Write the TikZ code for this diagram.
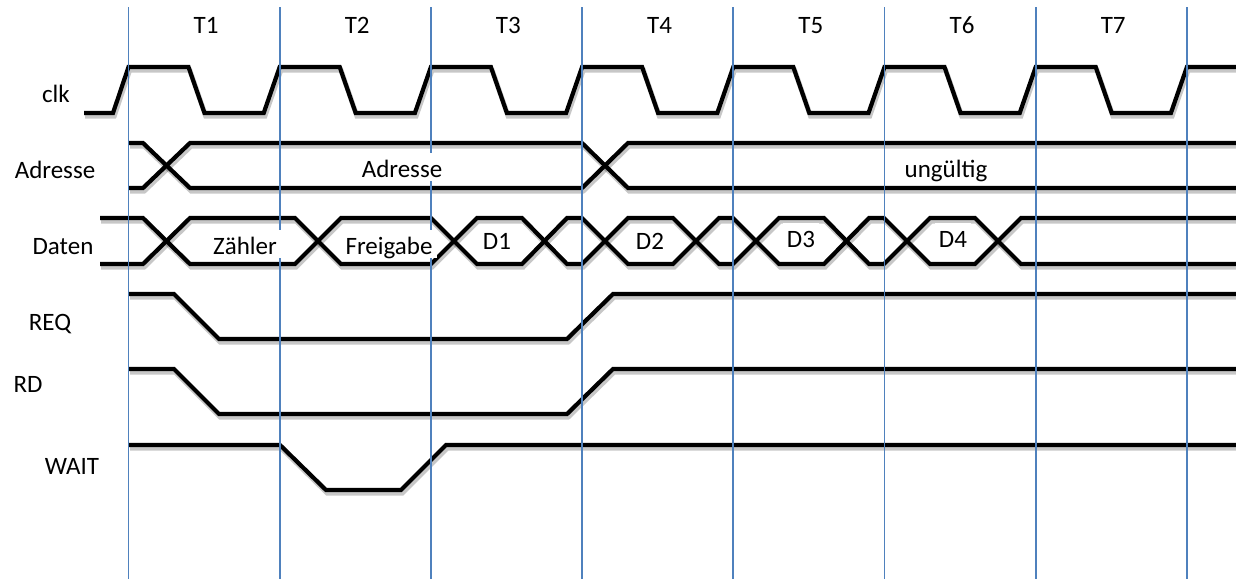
\documentclass[tikz,border=0pt]{standalone}
\usepackage{fontspec}
\setmainfont{Carlito}
\definecolor{gridblue}{RGB}{79,129,189}
\tikzset{
  sigst/.style={line width=4.2pt, line join=miter, line cap=butt, black},
  shadowst/.style={line width=5pt, line join=miter, line cap=butt, black, draw opacity=0.22, shift={(1.2,3)}},
  gridst/.style={gridblue, line width=1.7pt},
  lbl/.style={font=\fontsize{25}{29}\selectfont, inner sep=0pt, anchor=base},
  boxst/.style={lbl, fill=white, inner xsep=4pt, inner ysep=4pt, text height=20pt, text depth=0pt},
}
\newcommand\signal[1]{\draw[shadowst] #1; \draw[sigst] #1;}
\begin{document}
\begin{tikzpicture}[x=1pt,y=-1pt]
\useasboundingbox (0,0) rectangle (1236,579);
% clock
\signal{(84,113) -- (113,113) \foreach \k in {0,...,6}{ -- ({128.5+151.2*\k},67) -- ({188.5+151.2*\k},67) -- ({204.5+151.2*\k},113) -- ({263.7+151.2*\k},113)} -- (1186.9,67) -- (1236,67)}
% Adresse
\signal{(129,143) -- (143,143) -- (190,188) -- (582,188) -- (628,143) -- (1236,143)}
\signal{(129,188) -- (143,188) -- (190,143) -- (582,143) -- (628,188) -- (1236,188)}
% Daten
\signal{(100,218) -- (143,218) -- (190,264) -- (295,264) -- (341,218) -- (431,218) -- (477,264) -- (522,264) -- (567,218) -- (582,218) -- (628,264) -- (673,264) -- (719,218) -- (733,218) -- (779,264) -- (824,264) -- (869,218) -- (884,218) -- (930,264) -- (975,264) -- (1021,218) -- (1236,218)}
\signal{(100,264) -- (143,264) -- (190,218) -- (295,218) -- (341,264) -- (431,264) -- (477,218) -- (522,218) -- (567,264) -- (582,264) -- (628,218) -- (673,218) -- (719,264) -- (733,264) -- (779,218) -- (824,218) -- (869,264) -- (884,264) -- (930,218) -- (975,218) -- (1021,264) -- (1236,264)}
% REQ
\signal{(129,294) -- (174,294) -- (219,339) -- (567,339) -- (613,294) -- (1236,294)}
% RD
\signal{(129,369) -- (174,369) -- (219,414) -- (567,414) -- (613,369) -- (1236,369)}
% WAIT
\signal{(129,445) -- (280,445) -- (326,490) -- (401,490) -- (446,445) -- (1236,445)}
% grid lines
\foreach \k in {0,...,7} \draw[gridst] ({128.5+151.2*\k},7) -- ({128.5+151.2*\k},579);
% period labels
\foreach \k/\t in {0/T1,1/T2,2/T3,3/T4,4/T5,5/T6,6/T7} \node[lbl] (T\k) at ({206+151.2*\k},33) {\t};
% signal names
\node[lbl] (nclk) at (56,102) {clk};
\node[lbl] (nadr) at (55,178) {Adresse};
\node[lbl] (ndat) at (63,254) {Daten};
\node[lbl] (nreq) at (50,330) {REQ};
\node[lbl] (nrd) at (28,392) {RD};
\node[lbl] (nwait) at (72,474) {WAIT};
% values
\node[boxst] (vadr) at (402,177) {Adresse};
\node[boxst] (vung) at (946,177) {ungültig};
\node[boxst] (vzae) at (245,254) {Zähler};
\node[boxst, inner xsep=5pt] (vfrei) at (389,254) {Freigabe};
\node[boxst] (vd1) at (497,249) {D1};
\node[boxst] (vd2) at (650,249) {D2};
\node[boxst] (vd3) at (801,247) {D3};
\node[boxst] (vd4) at (953,247) {D4};
\end{tikzpicture}
\end{document}
